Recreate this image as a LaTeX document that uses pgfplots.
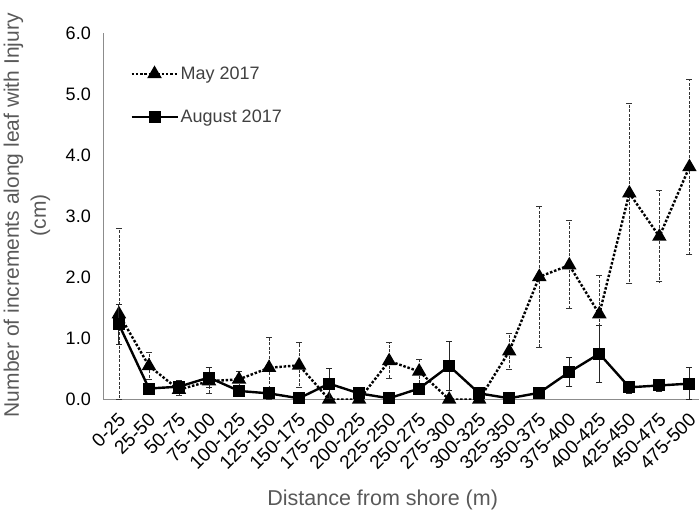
\documentclass[border=0pt]{standalone}
\usepackage{pgfplots}
\pgfplotsset{compat=1.18}
\usepackage{pgfplotstable}
\usepackage{fontspec}
\setmainfont{Liberation Sans}
\definecolor{labgray}{HTML}{595959}
\definecolor{leggray}{HTML}{404040}
\definecolor{axgray}{HTML}{8C8C8C}

\pgfplotstableread{
x y ep em
0 1.40 1.40 1.40
1 0.55 0.22 0.22
2 0.16 0.09 0.09
3 0.30 0.22 0.20
4 0.33 0.13 0.13
5 0.52 0.50 0.52
6 0.56 0.37 0.36
7 0.00 0.00 0.00
8 0.00 0.00 0.00
9 0.63 0.30 0.28
10 0.46 0.19 0.20
11 0.00 0.00 0.00
12 0.00 0.00 0.00
13 0.79 0.29 0.29
14 2.01 1.16 1.15
15 2.20 0.74 0.70
16 1.40 0.63 0.63
17 3.38 1.47 1.47
18 2.67 0.75 0.74
19 3.81 1.43 1.43
}\may

\pgfplotstableread{
x y ep em
0 1.23 0.33 0.32
1 0.18 0.08 0.08
2 0.21 0.10 0.10
3 0.36 0.16 0.16
4 0.14 0.05 0.05
5 0.10 0.00 0.00
6 0.02 0.00 0.00
7 0.26 0.25 0.24
8 0.10 0.06 0.06
9 0.02 0.00 0.00
10 0.18 0.07 0.07
11 0.55 0.40 0.40
12 0.10 0.00 0.00
13 0.02 0.00 0.00
14 0.11 0.04 0.04
15 0.45 0.24 0.24
16 0.75 0.47 0.47
17 0.20 0.10 0.10
18 0.23 0.10 0.10
19 0.26 0.26 0.26
}\aug

\begin{document}
\begin{tikzpicture}
\useasboundingbox (0,0) rectangle (699pt,514pt);
\begin{axis}[
  at={(103.3pt,114.5pt)}, anchor=south west,
  scale only axis, width=595.7pt, height=366.2pt,
  xmin=-0.52, xmax=19.32, ymin=0, ymax=6,
  axis x line=bottom, axis y line=left,
  axis line style={-, axgray, line width=1.2pt},
  major tick length=0pt,
  xtick={0,...,19},
  xticklabels={0-25,25-50,50-75,75-100,100-125,125-150,150-175,175-200,200-225,225-250,250-275,275-300,300-325,325-350,350-375,375-400,400-425,425-450,450-475,475-500},
  x tick label style={rotate=45, anchor=north east, font=\fontsize{19}{21}\selectfont, inner sep=1pt, xshift=-8.8pt, yshift=-6.3pt},
  ytick={0,1,2,3,4,5,6},
  yticklabel style={/pgf/number format/assume math mode=true, /pgf/number format/fixed, /pgf/number format/fixed zerofill, /pgf/number format/precision=1, font=\fontsize{18}{20}\selectfont, xshift=-9pt},
  ylabel={Number of increments along leaf with Injury\\(cm)},
  ylabel style={at={(axis description cs:-0.128,0.503)}, anchor=center, rotate=0, align=center, font=\fontsize{21}{27}\selectfont, text=labgray},
  xlabel={Distance from shore (m)},
  xlabel style={at={(axis description cs:0.469,-0.275)}, anchor=center, font=\fontsize{21.5}{26}\selectfont, text=labgray},
  clip mode=individual,
  legend style={draw=none, fill=none, at={(axis description cs:0.04,0.92)}, anchor=north west, font=\fontsize{18}{20}\selectfont, text=leggray, row sep=25pt, /tikz/every even column/.append style={column sep=2pt}},
  legend cell align=left,
  legend image code/.code={\draw[mark repeat=2,mark phase=2,#1] plot coordinates {(0pt,0pt) (23pt,0pt) (46pt,0pt)};},
]
\addplot[black, line width=2.4pt, dash pattern=on 2.5pt off 1.8pt, mark=triangle*, mark size=6pt, mark options={solid},
  error bars/.cd, y dir=both, y explicit,
  error bar style={line width=0.8pt, dash pattern=on 3pt off 1.5pt, black!80},
  error mark options={rotate=90, mark size=3pt, solid, line width=0.8pt, black!80}]
  table[x=x, y=y, y error plus=ep, y error minus=em] {\may};
\addlegendentry{May 2017}
\addplot[black, line width=2.4pt, mark=square*, mark size=4.8pt, mark options={solid},
  error bars/.cd, y dir=both, y explicit,
  error bar style={line width=0.9pt, solid, black!85},
  error mark options={rotate=90, mark size=3pt, line width=0.9pt, black!85}]
  table[x=x, y=y, y error plus=ep, y error minus=em] {\aug};
\addlegendentry{August 2017}
\end{axis}
\end{tikzpicture}
\end{document}
